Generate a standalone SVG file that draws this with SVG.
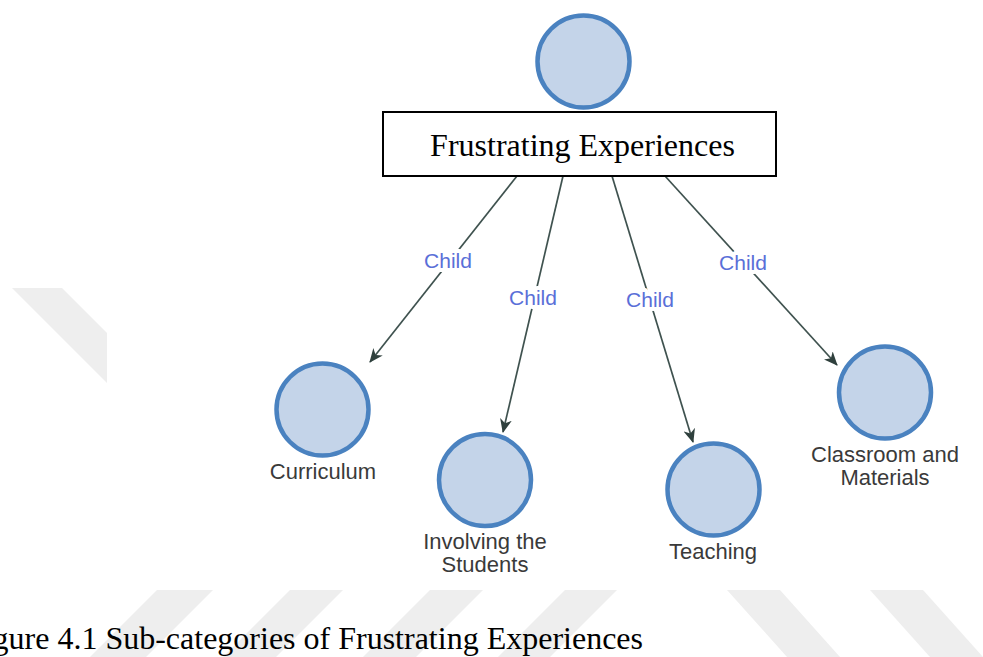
<svg xmlns="http://www.w3.org/2000/svg" width="983" height="657" viewBox="0 0 983 657">
  <style>
    .node { fill: #c4d4e9; stroke: #4a82c0; stroke-width: 4.5; }
    .edge { stroke: #3f524f; stroke-width: 1.7; fill: none; marker-end: url(#arrow); }
    .elabel { font-family: "Liberation Sans", Arial, sans-serif; font-size: 21px; fill: #5a6fd8; text-anchor: middle; stroke: #ffffff; stroke-width: 8; paint-order: stroke; stroke-linejoin: round; }
    .nlabel { font-family: "Liberation Sans", Arial, sans-serif; font-size: 22px; fill: #3a3a3a; text-anchor: middle; }
    .stripe { fill: #eeeeee; }
    .serif { font-family: "Liberation Serif", "Times New Roman", serif; fill: #000000; }
  </style>
  <defs>
    <marker id="arrow" viewBox="0 0 14 12" refX="13" refY="6" markerWidth="14" markerHeight="12" markerUnits="userSpaceOnUse" orient="auto">
      <path d="M0,0 L14,6 L0,12 L4,6 z" fill="#2f403d"/>
    </marker>
  </defs>
  <rect x="0" y="0" width="983" height="657" fill="#ffffff"/>

  <g id="watermark">
    <polygon class="stripe" points="12,288 62,288 107,333 107,383"/>
    <polygon class="stripe" points="157,590 213,590 146,657 90,657"/>
    <polygon class="stripe" points="290,590 343,590 276,657 223,657"/>
    <polygon class="stripe" points="430,590 483,590 416,657 363,657"/>
    <polygon class="stripe" points="565,590 617,590 550,657 498,657"/>
    <polygon class="stripe" points="727,590 780,590 840,657 787,657"/>
    <polygon class="stripe" points="870,590 923,590 983,657 930,657"/>
  </g>

  <g id="connectors">
    <line class="edge" x1="517" y1="176" x2="370" y2="362"/>
    <line class="edge" x1="563" y1="176" x2="503" y2="432"/>
    <line class="edge" x1="612" y1="176" x2="693" y2="442"/>
    <line class="edge" x1="665" y1="176" x2="837" y2="365"/>
    <text class="elabel" x="448" y="268">Child</text>
    <text class="elabel" x="533" y="305">Child</text>
    <text class="elabel" x="650" y="307">Child</text>
    <text class="elabel" x="743" y="270">Child</text>
  </g>

  <g id="node-root">
    <circle class="node" cx="583.5" cy="61.5" r="46"/>
    <rect x="383" y="112" width="393" height="64" fill="#ffffff" stroke="#000000" stroke-width="2"/>
    <text class="serif" x="582.5" y="156" font-size="32" text-anchor="middle">Frustrating Experiences</text>
  </g>

  <g id="node-curriculum">
    <circle class="node" cx="322.5" cy="409.5" r="46"/>
    <text class="nlabel" x="323" y="479">Curriculum</text>
  </g>

  <g id="node-involving">
    <circle class="node" cx="485" cy="480" r="46"/>
    <text class="nlabel" x="485" y="549">Involving the</text>
    <text class="nlabel" x="485" y="572">Students</text>
  </g>

  <g id="node-teaching">
    <circle class="node" cx="713.5" cy="489.5" r="46"/>
    <text class="nlabel" x="713" y="559">Teaching</text>
  </g>

  <g id="node-classroom">
    <circle class="node" cx="885" cy="392.5" r="46"/>
    <text class="nlabel" x="885" y="462">Classroom and</text>
    <text class="nlabel" x="885" y="485">Materials</text>
  </g>

  <text id="caption" class="serif" x="643" y="649" font-size="32" text-anchor="end">Figure 4.1 Sub-categories of Frustrating Experiences</text>
</svg>
